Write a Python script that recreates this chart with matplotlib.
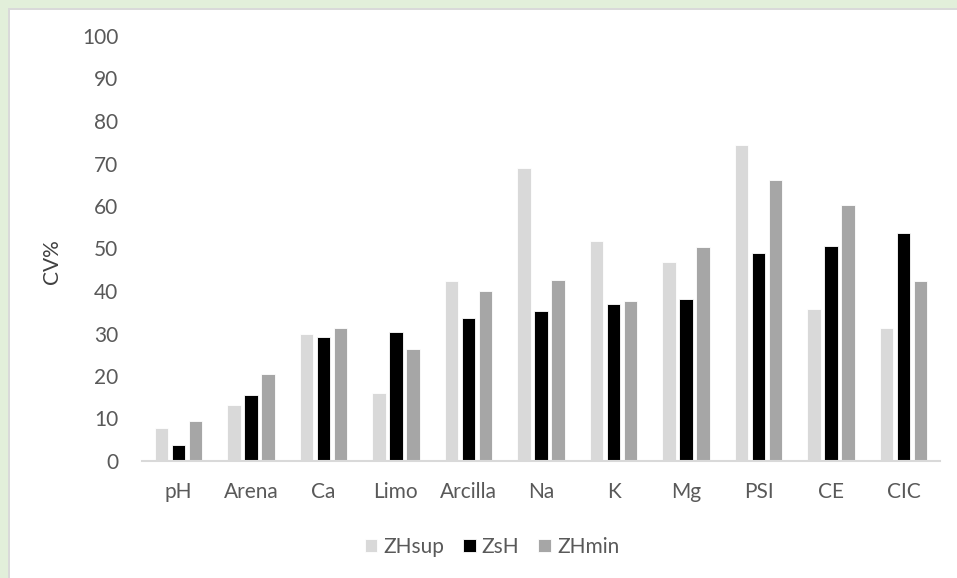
import numpy as np
import matplotlib
matplotlib.use("Agg")
import matplotlib.pyplot as plt
from matplotlib.patches import Rectangle

categories = ["pH", "Arena", "Ca", "Limo", "Arcilla", "Na", "K", "Mg", "PSI", "CE", "CIC"]
zhsup = [7.7, 13.2, 30.0, 15.9, 42.4, 68.9, 51.7, 46.8, 74.4, 35.8, 31.2]
zsh   = [3.8, 15.5, 29.1, 30.3, 33.6, 35.2, 36.9, 38.1, 49.0, 50.6, 53.6]
zhmin = [9.3, 20.4, 31.2, 26.4, 39.9, 42.7, 37.6, 50.3, 66.2, 60.2, 42.4]
series_names = ["ZHsup", "ZsH", "ZHmin"]

COLORS = ["#d9d9d9", "#000000", "#a6a6a6"]
TXT = "#595959"

plt.rcParams["font.family"] = ["Lato", "DejaVu Sans"]

fig = plt.figure(figsize=(9.57, 5.78), dpi=100)
fig.patch.set_facecolor("white")

# green page frame on top and left, with a thin grey edge
fig.patches.append(Rectangle((0, 1 - 8 / 578), 1, 8 / 578, transform=fig.transFigure,
                             facecolor="#e2efda", edgecolor="none", zorder=0))
fig.patches.append(Rectangle((0, 0), 8 / 957, 1, transform=fig.transFigure,
                             facecolor="#e2efda", edgecolor="none", zorder=0))
fig.patches.append(Rectangle((8 / 957, 0), 1.5 / 957, 1 - 8 / 578, transform=fig.transFigure,
                             facecolor="#d9d9d9", edgecolor="none", zorder=1))
fig.patches.append(Rectangle((8 / 957, 1 - 9.5 / 578), 1, 1.5 / 578, transform=fig.transFigure,
                             facecolor="#d9d9d9", edgecolor="none", zorder=1))

ax = fig.add_axes([142 / 957, 117 / 578, 798 / 957, 425 / 578])

x = np.arange(len(categories))
w = 0.185
step = 0.234
for i, (vals, name) in enumerate(zip([zhsup, zsh, zhmin], series_names)):
    ax.bar(x + (i - 1) * step, vals, width=w, color=COLORS[i], label=name,
           edgecolor="white", linewidth=0.6, zorder=2)

ax.set_xlim(-0.5, len(categories) - 0.5)
ax.set_ylim(0, 100)
ax.set_yticks(range(0, 101, 10))
ax.set_xticks(x)
ax.set_xticklabels(categories)

for s in ["top", "right", "left"]:
    ax.spines[s].set_visible(False)
ax.spines["bottom"].set_color("#d9d9d9")
ax.spines["bottom"].set_linewidth(1.5)
ax.tick_params(axis="both", length=0, labelsize=15, colors=TXT)
ax.tick_params(axis="x", pad=15)
ax.tick_params(axis="y", pad=17)

ax.set_ylabel("CV%", fontsize=15, color="#404040")
ax.yaxis.set_label_coords(-0.100, 0.47)

fig.legend(*ax.get_legend_handles_labels(), loc="center", bbox_to_anchor=(0.514, 0.054),
           ncol=3, frameon=False, fontsize=15, labelcolor=TXT, handlelength=0.6,
           handleheight=0.6, handletextpad=0.3, columnspacing=0.9)

fig.savefig("out.png", dpi=100)
